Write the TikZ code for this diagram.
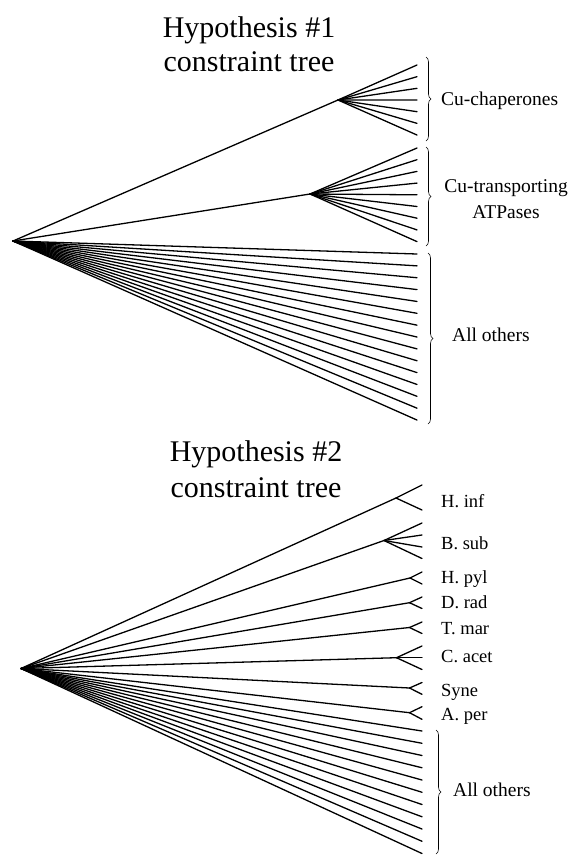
\documentclass[tikz,border=0pt]{standalone}
\usepackage{fontspec}
\setmainfont{Liberation Serif}
\usetikzlibrary{decorations.pathreplacing}
\begin{document}
\begin{tikzpicture}[x=1pt,y=-1pt,
  branch/.style={line width=1.3pt, line cap=round},
  bracestyle/.style={decorate, decoration={brace, amplitude=5pt}, line width=0.6pt},
  title/.style={font=\fontsize{30}{34}\selectfont, anchor=base, inner sep=0},
  lab/.style={font=\fontsize{19.5}{23}\selectfont, anchor=base west, inner sep=0},
  labc/.style={font=\fontsize{19.5}{23}\selectfont, anchor=base, inner sep=0},
  sp/.style={font=\fontsize{18.5}{21}\selectfont, anchor=base west, inner sep=0}]
\useasboundingbox (0,0) rectangle (575,855);

% ---------- Tree 1 ----------
\node[title] (t1a) at (249,37.5) {Hypothesis \#1};
\node[title] (t1b) at (249,71.5) {constraint tree};

\coordinate (r1) at (13,241);
\coordinate (chap) at (338,100);
\coordinate (trans) at (310,194);
\draw[branch] (r1) -- (chap);
\draw[branch] (r1) -- (trans);
\foreach \i in {0,...,6} {
  \coordinate (c\i) at (417,{65+\i*11.67});
  \draw[branch] (chap) -- (c\i);
}
\foreach \i in {0,...,8} {
  \coordinate (a\i) at (417,{148+\i*11.7});
  \draw[branch] (trans) -- (a\i);
}
\foreach \i in {0,...,14} {
  \coordinate (o\i) at (417,{254+\i*11.86});
  \draw[branch] (r1) -- (o\i);
}

\draw[bracestyle] (426,57) -- (426,141);
\draw[bracestyle] (426,147) -- (426,246);
\draw[bracestyle] (428,253) -- (428,424);

\node[lab] (lchap) at (441,105.5) {Cu-chaperones};
\node[labc] (ltr1) at (506,192.5) {Cu-transporting};
\node[labc] (ltr2) at (506,218) {ATPases};
\node[lab] (lo1) at (452,341.5) {All others};

% ---------- Tree 2 ----------
\node[title] (t2a) at (256,461.5) {Hypothesis \#2};
\node[title] (t2b) at (256,497) {constraint tree};

\coordinate (r2) at (21,668.5);
\foreach \nm/\nx/\ny/\tips in {
  hinf/396/498/{485,510},
  bsub/384/540.5/{523,535,547,558.5},
  hpyl/410/578/{572,584},
  drad/409.5/602.7/{597,608.5},
  tmar/409.5/627.5/{622,633.5},
  cacet/396.5/657.7/{646,657.7,669.5},
  syne/409.5/688/{682.5,694.3},
  aper/409.5/712.7/{706.7,719.3}} {
  \coordinate (\nm) at (\nx,\ny);
  \draw[branch] (r2) -- (\nm);
  \foreach \t [count=\k] in \tips {
    \coordinate (\nm-\k) at (422,\t);
    \draw[branch] (\nm) -- (\nm-\k);
  }
}
\foreach \i in {0,...,10} {
  \coordinate (p\i) at (422,{731+\i*12.25});
  \draw[branch] (r2) -- (p\i);
}

\draw[bracestyle] (436,730) -- (436,854);

\node[sp] (lhinf) at (441,507) {H. inf};
\node[sp] (lbsub) at (441,549) {B. sub};
\node[sp] (lhpyl) at (441,583) {H. pyl};
\node[sp] (ldrad) at (441,608) {D. rad};
\node[sp] (ltmar) at (441,634) {T. mar};
\node[sp] (lcacet) at (441,662.5) {C. acet};
\node[sp] (lsyne) at (441,696) {Syne};
\node[sp] (laper) at (441,720.5) {A. per};
\node[lab] (lo2) at (453,796.5) {All others};
\end{tikzpicture}
\end{document}
